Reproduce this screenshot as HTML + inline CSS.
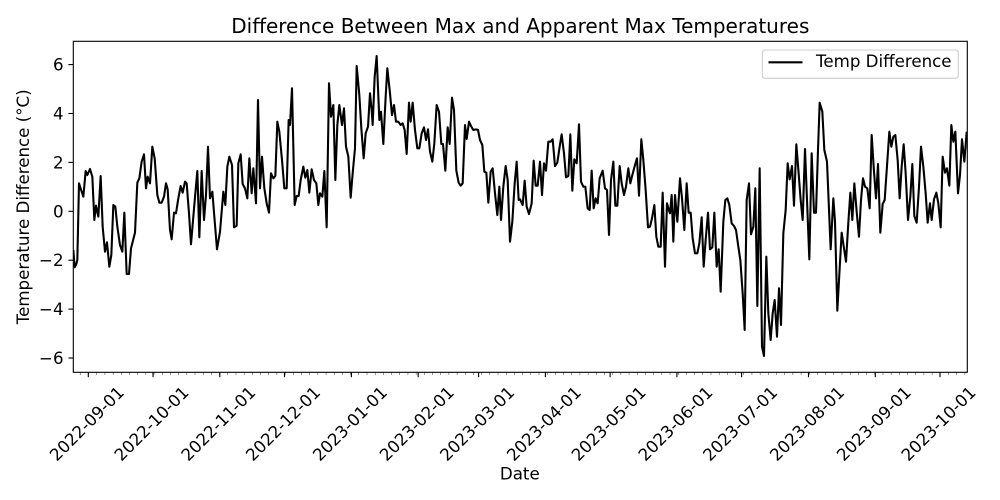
<!DOCTYPE html>
<html>
<head>
<meta charset="utf-8">
<style>
html,body{margin:0;padding:0;background:#fff;}
svg{display:block;}
text{font-family:"DejaVu Sans","Liberation Sans",sans-serif;fill:#000;}
</style>
</head>
<body>
<svg width="1000" height="500" viewBox="0 0 1000 500" xmlns="http://www.w3.org/2000/svg">
<defs>
<clipPath id="ax"><rect x="73.3" y="41.3" width="894" height="331"/></clipPath>
<pattern id="mt" x="88.3" y="372.3" width="8.19" height="3" patternUnits="userSpaceOnUse"><rect x="-0.42" y="0" width="0.84" height="2.8" fill="#000"/></pattern>
</defs>
<rect width="1000" height="500" fill="#fff"/>

<!-- title -->
<text x="520.3" y="33" font-size="20" text-anchor="middle">Difference Between Max and Apparent Max Temperatures</text>

<!-- data line -->
<g clip-path="url(#ax)">
<polyline transform="translate(70,40) scale(0.333333)" fill="none" stroke="#000" stroke-width="6.25" stroke-linejoin="round" stroke-linecap="butt" points="10,630 14,682 19,672 22,660 27,430 40,470 47,393 52,405 60,387 67,410 73,540 78,497 85,530 92,408 98,560 105,635 111,607 118,680 124,645 130,495 136,500 142,560 150,615 157,635 163,518 170,702 177,702 183,625 195,578 202,428 208,415 215,365 222,343 228,445 233,410 240,430 247,320 254,355 262,465 268,488 275,488 282,470 288,430 293,448 300,570 305,598 312,518 318,520 325,475 332,438 338,458 345,425 350,430 357,520 363,613 370,530 376,460 382,393 388,592 395,393 402,540 408,465 414,320 420,475 427,455 433,530 441,628 450,575 460,455 466,495 472,380 478,350 486,375 492,562 500,557 505,370 512,343 518,432 525,445 532,475 538,355 545,460 550,385 558,490 564,180 570,445 576,350 583,445 590,490 597,518 603,400 610,415 616,408 622,245 628,275 636,360 643,445 650,445 656,240 660,255 666,145 674,495 680,468 686,468 692,420 700,380 706,413 712,390 718,458 725,388 732,420 739,430 745,495 750,460 757,470 763,393 770,562 777,130 783,230 790,195 796,420 802,255 808,195 816,255 822,205 828,320 835,350 842,473 848,400 855,325 860,78 868,165 874,265 881,355 887,280 894,260 900,160 905,210 908,255 914,110 920,48 928,240 933,215 940,312 947,170 952,85 960,160 966,225 972,195 978,245 985,245 992,255 998,250 1004,270 1010,342 1017,188 1022,245 1028,188 1035,270 1042,325 1048,325 1055,280 1062,262 1068,300 1074,268 1080,335 1087,365 1093,310 1100,195 1107,215 1114,312 1119,312 1126,392 1133,262 1139,312 1146,173 1152,210 1159,392 1166,428 1172,437 1178,430 1185,255 1190,297 1197,245 1204,260 1210,270 1218,268 1224,270 1230,300 1237,315 1243,395 1249,398 1255,488 1262,395 1268,385 1275,460 1282,525 1288,440 1293,540 1300,440 1307,378 1313,420 1320,605 1327,545 1334,430 1340,365 1346,480 1350,478 1358,495 1364,422 1370,500 1377,522 1385,490 1391,362 1397,437 1403,437 1410,365 1416,465 1422,370 1428,392 1435,305 1442,305 1448,298 1455,378 1462,368 1469,320 1475,283 1482,340 1488,412 1495,408 1501,283 1507,452 1513,358 1520,370 1527,253 1533,425 1540,440 1546,440 1553,505 1559,510 1565,392 1571,505 1577,475 1583,490 1589,415 1598,392 1605,445 1611,450 1617,585 1623,420 1630,365 1636,497 1642,497 1649,378 1655,430 1662,465 1668,440 1675,385 1681,430 1687,405 1695,375 1701,355 1707,467 1714,298 1720,360 1727,450 1734,562 1740,560 1746,535 1753,495 1759,590 1765,620 1772,620 1778,458 1785,680 1791,490 1797,512 1800,520 1805,465 1810,605 1815,465 1822,545 1830,415 1836,475 1843,570 1850,430 1856,518 1862,518 1868,595 1875,640 1882,640 1888,610 1895,532 1901,680 1907,600 1914,518 1920,628 1927,622 1933,518 1940,680 1946,628 1952,755 1960,545 1966,480 1972,475 1978,495 1985,550 1992,558 1998,570 2005,620 2011,660 2018,760 2024,870 2030,480 2037,430 2043,583 2050,560 2056,445 2062,798 2069,385 2076,920 2082,948 2089,650 2095,820 2102,900 2108,820 2114,780 2121,890 2127,745 2133,855 2140,580 2147,510 2153,370 2159,418 2166,378 2172,497 2179,313 2185,388 2192,480 2198,540 2205,327 2218,658 2225,340 2232,518 2238,518 2244,330 2249,188 2257,215 2263,330 2271,365 2282,628 2290,475 2295,545 2302,812 2309,685 2315,578 2322,625 2328,665 2335,548 2341,458 2347,540 2353,430 2360,515 2367,590 2373,480 2379,415 2385,440 2392,445 2399,505 2405,285 2412,395 2418,475 2424,372 2431,578 2438,492 2444,480 2451,378 2458,275 2464,320 2470,290 2476,285 2483,360 2489,475 2495,380 2501,313 2507,400 2514,540 2521,470 2527,372 2533,528 2540,548 2547,440 2553,320 2560,380 2567,460 2573,548 2580,490 2585,540 2592,478 2599,458 2605,490 2612,562 2618,350 2625,398 2631,385 2638,437 2644,255 2650,305 2656,275 2664,460 2670,405 2676,298 2683,365 2690,275"/>
</g>

<!-- axes frame -->
<rect x="73.3" y="41.3" width="894" height="331" fill="none" stroke="#000" stroke-width="1.1"/>

<!-- y ticks -->
<g stroke="#000" stroke-width="1.1">
<line x1="68.4" y1="64.6" x2="73.3" y2="64.6"/>
<line x1="68.4" y1="113.5" x2="73.3" y2="113.5"/>
<line x1="68.4" y1="162.4" x2="73.3" y2="162.4"/>
<line x1="68.4" y1="211.3" x2="73.3" y2="211.3"/>
<line x1="68.4" y1="260.2" x2="73.3" y2="260.2"/>
<line x1="68.4" y1="309.1" x2="73.3" y2="309.1"/>
<line x1="68.4" y1="358.0" x2="73.3" y2="358.0"/>
</g>
<g font-size="16.67" text-anchor="end">
<text x="63.6" y="70.6">6</text>
<text x="63.6" y="119.5">4</text>
<text x="63.6" y="168.4">2</text>
<text x="63.6" y="217.3">0</text>
<text x="63.6" y="266.2">−2</text>
<text x="63.6" y="315.1">−4</text>
<text x="63.6" y="364.0">−6</text>
</g>

<!-- y label -->
<text transform="translate(29,206.8) rotate(-90)" font-size="16.67" text-anchor="middle">Temperature Difference (°C)</text>

<!-- minor x ticks -->
<rect x="74" y="372.3" width="893" height="2.8" fill="url(#mt)"/>

<!-- major x ticks -->
<g stroke="#000" stroke-width="1.1">
<line x1="88.3" y1="372.3" x2="88.3" y2="377.2"/>
<line x1="153.0" y1="372.3" x2="153.0" y2="377.2"/>
<line x1="219.8" y1="372.3" x2="219.8" y2="377.2"/>
<line x1="284.5" y1="372.3" x2="284.5" y2="377.2"/>
<line x1="351.4" y1="372.3" x2="351.4" y2="377.2"/>
<line x1="418.2" y1="372.3" x2="418.2" y2="377.2"/>
<line x1="478.6" y1="372.3" x2="478.6" y2="377.2"/>
<line x1="545.4" y1="372.3" x2="545.4" y2="377.2"/>
<line x1="610.1" y1="372.3" x2="610.1" y2="377.2"/>
<line x1="676.9" y1="372.3" x2="676.9" y2="377.2"/>
<line x1="741.6" y1="372.3" x2="741.6" y2="377.2"/>
<line x1="808.5" y1="372.3" x2="808.5" y2="377.2"/>
<line x1="875.3" y1="372.3" x2="875.3" y2="377.2"/>
<line x1="940.0" y1="372.3" x2="940.0" y2="377.2"/>
</g>

<!-- x tick labels -->
<g font-size="16.67" text-anchor="middle">
<text transform="translate(86.7,423.5) rotate(-45)" y="6">2022-09-01</text>
<text transform="translate(151.4,423.5) rotate(-45)" y="6">2022-10-01</text>
<text transform="translate(218.2,423.5) rotate(-45)" y="6">2022-11-01</text>
<text transform="translate(282.9,423.5) rotate(-45)" y="6">2022-12-01</text>
<text transform="translate(349.8,423.5) rotate(-45)" y="6">2023-01-01</text>
<text transform="translate(416.6,423.5) rotate(-45)" y="6">2023-02-01</text>
<text transform="translate(477.0,423.5) rotate(-45)" y="6">2023-03-01</text>
<text transform="translate(543.8,423.5) rotate(-45)" y="6">2023-04-01</text>
<text transform="translate(608.5,423.5) rotate(-45)" y="6">2023-05-01</text>
<text transform="translate(675.3,423.5) rotate(-45)" y="6">2023-06-01</text>
<text transform="translate(740.0,423.5) rotate(-45)" y="6">2023-07-01</text>
<text transform="translate(806.9,423.5) rotate(-45)" y="6">2023-08-01</text>
<text transform="translate(873.7,423.5) rotate(-45)" y="6">2023-09-01</text>
<text transform="translate(938.4,423.5) rotate(-45)" y="6">2023-10-01</text>
</g>

<!-- x label -->
<text x="519.8" y="479.3" font-size="16.67" text-anchor="middle">Date</text>

<!-- legend -->
<rect x="762.3" y="50" width="196" height="28.3" rx="2.8" ry="2.8" fill="#fff" fill-opacity="0.8" stroke="#cccccc" stroke-width="1.1"/>
<line x1="768.5" y1="62.3" x2="802.5" y2="62.3" stroke="#000" stroke-width="2.08"/>
<text x="816" y="67.2" font-size="16.67">Temp Difference</text>
</svg>
</body>
</html>
